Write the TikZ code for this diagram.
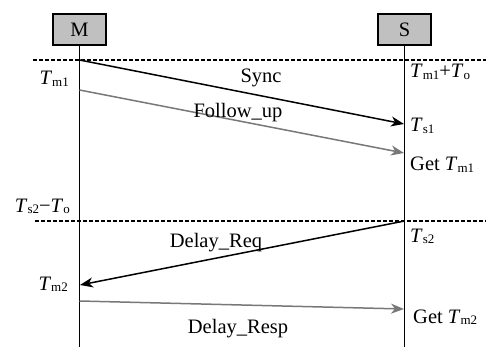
\documentclass[tikz,border=0pt]{standalone}
\usepackage{fontspec}
\setmainfont{Liberation Serif}
\usetikzlibrary{arrows.meta}
\definecolor{boxgray}{RGB}{192,192,192}
\definecolor{msggray}{RGB}{120,120,120}
\newcommand\Tx[1]{\textit{T}\raisebox{-1.5pt}{\fontsize{13}{13}\selectfont #1}}
\begin{document}
\begin{tikzpicture}[x=1pt,y=-1pt,
  font=\fontsize{20.5}{24}\selectfont,
  entity/.style={draw=black,line width=1.5pt,fill=boxgray,minimum width=53pt,minimum height=31pt,inner sep=0pt},
  life/.style={line width=1.5pt},
  sep/.style={line width=1.5pt,dash pattern=on 4pt off 2pt},
  msg/.style={line width=1.5pt,-{Stealth[length=13pt,width=10pt,inset=4pt]}},
  msgg/.style={msg,draw=msggray},
  lbl/.style={inner sep=0pt,anchor=base}
]
\useasboundingbox (0,0) rectangle (486,347);
% entities
\node[entity] (M) at (79.5,29.5) {M};
\node[entity] (S) at (404.5,29.5) {S};
\coordinate (Mend) at (79.5,347);
\coordinate (Send) at (404.5,347);
\draw[life] (M.south) -- (Mend);
\draw[life] (S.south) -- (Send);
% separators
\coordinate (d1l) at (33,60); \coordinate (d1r) at (486,60);
\coordinate (d2l) at (35,221); \coordinate (d2r) at (486,221);
\draw[sep] (d1l) -- (d1r);
\draw[sep] (d2l) -- (d2r);
% message end points
\coordinate (syncA) at (79.5,60);  \coordinate (syncB) at (404,124);
\coordinate (fuA) at (79.5,90);    \coordinate (fuB) at (404,153);
\coordinate (drA) at (404.5,221);  \coordinate (drB) at (80,285);
\coordinate (dpA) at (79.5,301);   \coordinate (dpB) at (404,309);
\draw[msg] (syncA) -- (syncB);
\draw[msgg] (fuA) -- (fuB);
\draw[msg] (drA) -- (drB);
\draw[msgg] (dpA) -- (dpB);
% message labels
\node[lbl] (lsync) at (261,83) {Sync};
\node[lbl] (lfu) at (238,118) {Follow\_up};
\node[lbl] (ldr) at (216,247) {Delay\_Req};
\node[lbl] (ldp) at (238,333) {Delay\_Resp};
% time labels left
\node[lbl,anchor=base east] (tm1) at (69,85) {\Tx{m1}};
\node[lbl,anchor=base east] (ts2to) at (70,212) {\Tx{s2}−\textit{T}\raisebox{-1.5pt}{\fontsize{13}{13}\selectfont o}};
\node[lbl,anchor=base east] (tm2) at (68,290) {\Tx{m2}};
% time labels right
\node[lbl,anchor=base west] (tm1to) at (410,78) {\Tx{m1}+\textit{T}\raisebox{-1.5pt}{\fontsize{13}{13}\selectfont o}};
\node[lbl,anchor=base west] (ts1) at (410,132) {\Tx{s1}};
\node[lbl,anchor=base west] (gtm1) at (410,171) {Get \Tx{m1}};
\node[lbl,anchor=base west] (ts2) at (410,242) {\Tx{s2}};
\node[lbl,anchor=base west] (gtm2) at (413,323) {Get \Tx{m2}};
\end{tikzpicture}
\end{document}
